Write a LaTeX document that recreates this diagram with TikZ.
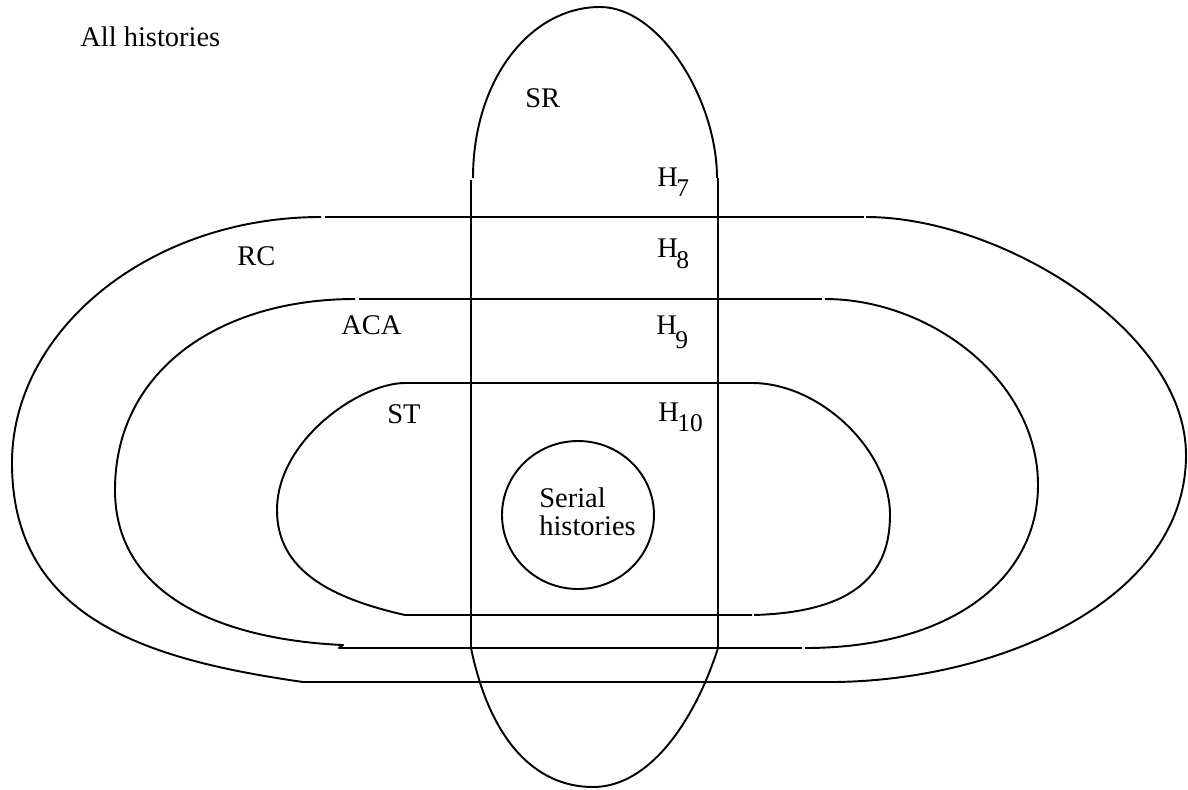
\documentclass[tikz,border=0pt]{standalone}
\usepackage{fontspec}
\setmainfont{Liberation Serif}
% H with a lowered index: #1 = drop, #2 = index
\newcommand{\hidx}[2]{H\kern-0.05em\raisebox{-#1}{\fontsize{14.5}{14.5}\selectfont #2}}
\begin{document}
\begin{tikzpicture}[x=0.02cm, y=-0.02cm,
  bound/.style={line width=1.1pt, line join=round, line cap=butt},
  lbl/.style={anchor=base west, inner sep=0pt, font=\fontsize{16.2}{19}\selectfont}]
\useasboundingbox (0,0) rectangle (1188,789);

% RC region
\draw[bound] (321,217) .. controls (150,217) and (12,330) .. (12,463)
  .. controls (12,620) and (150,660) .. (303,682) -- (835,682);
\draw[bound] (835,682) .. controls (1000,680) and (1186,600) .. (1186,455)
  .. controls (1186,330) and (1000,217) .. (866,217);
\draw[bound] (325,217) -- (864,217);

% ACA region
\draw[bound] (355,299) .. controls (220,299) and (115,370) .. (115,490)
  .. controls (115,600) and (230,640) .. (343,645) -- (339,648) -- (802,648);
\draw[bound] (805,648) .. controls (950,648) and (1038,580) .. (1038,485)
  .. controls (1038,380) and (930,299) .. (825,299);
\draw[bound] (359,299) -- (822,299);

% ST region
\draw[bound] (405,383) .. controls (360,383) and (277,440) .. (277,510)
  .. controls (277,570) and (330,598) .. (405,615) -- (752,615);
\draw[bound] (754,615) .. controls (860,612) and (890,570) .. (890,515)
  .. controls (890,450) and (820,383) .. (752,383) -- (405,383);

% SR region
\draw[bound] (473,178) .. controls (473,80) and (530,7) .. (600,7)
  .. controls (660,7) and (717,100) .. (717,178);
\draw[bound] (471,180) -- (471,648);
\draw[bound] (718,178) -- (718,648);
\draw[bound] (471,648) .. controls (490,740) and (535,787) .. (593,787)
  .. controls (650,787) and (695,720) .. (718,648);

% serial histories
\draw[bound] (578,515) circle[x radius=76, y radius=74];

% labels
\node[lbl] (all) at (80,46) {All histories};
\node[lbl] (sr) at (525,107) {SR};
\node[lbl] (rc) at (237,265) {RC};
\node[lbl] (aca) at (341,334) {ACA};
\node[lbl] (st) at (387,423) {ST};
\node[lbl] (h7) at (657,186) {\hidx{6.2pt}{7}};
\node[lbl] (h8) at (657,257) {\hidx{6.8pt}{8}};
\node[lbl] (h9) at (656,334) {\hidx{8.5pt}{9}};
\node[lbl] (h10) at (658,421) {\hidx{6.2pt}{10}};
\node[lbl] (ser1) at (539,507) {Serial};
\node[lbl] (ser2) at (539,535) {histories};
\end{tikzpicture}
\end{document}
